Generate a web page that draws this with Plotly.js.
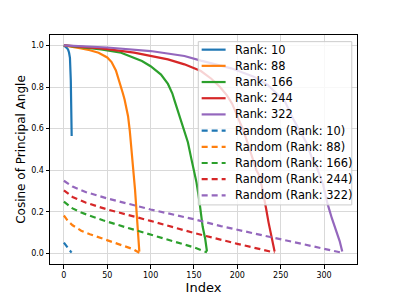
<!DOCTYPE html>
<html>
<head>
<meta charset="utf-8">
<script src="https://cdn.plot.ly/plotly-3.0.1.min.js"></script>
<style>html,body{margin:0;padding:0;background:#fff;}#chart{width:397px;height:297px;}</style>
</head>
<body>
<div id="chart"></div>
<script>
// Principal-angle cosines (solid) – index / value pairs
const rank10X = [0,1,2,3,4,5,6,7,8,9];
const rank10Y = [1.0,0.997,0.994,0.99,0.985,0.978,0.965,0.94,0.83,0.565];

const rank88X = [0,10,20,30,40,50,55,60,62,65,68,70,72,74,76,78,80,82,84,86,87];
const rank88Y = [1.0,0.994,0.986,0.977,0.965,0.942,0.92,0.88,0.855,0.81,0.77,0.74,0.70,0.66,0.59,0.50,0.43,0.31,0.19,0.07,0.01];

const rank166X = [0,20,43,66,81,90,100,112,120,125,128,135,140,143,147,150,153,156,158,160,163,165];
const rank166Y = [1.0,0.992,0.981,0.965,0.941,0.925,0.90,0.86,0.815,0.77,0.73,0.64,0.58,0.535,0.455,0.40,0.34,0.26,0.19,0.13,0.07,0.01];

const rank244X = [0,43,81,100,120,139,158,170,180,188,194,200,207,212,217,222,226,230,233,236,240,243];
const rank244Y = [1.0,0.986,0.965,0.95,0.933,0.909,0.877,0.84,0.80,0.76,0.72,0.66,0.59,0.53,0.46,0.40,0.37,0.29,0.22,0.15,0.07,0.01];

const rank322X = [0,50,100,139,158,193,219,235,245,255,264,273,280,286,292,299,304,309,313,318,321];
const rank322Y = [1.0,0.99,0.973,0.949,0.927,0.89,0.85,0.81,0.77,0.73,0.65,0.58,0.53,0.46,0.41,0.33,0.24,0.17,0.12,0.06,0.01];

// Random baselines (dashed)
const rand10X = [0,1,2,3,4,5,6,7,8,9];
const rand10Y = [0.053,0.047,0.041,0.035,0.029,0.024,0.018,0.013,0.009,0.005];

const rand88X = [0,5,10,20,30,40,50,60,70,80,87];
const rand88Y = [0.183,0.155,0.136,0.11,0.093,0.078,0.065,0.05,0.036,0.021,0.004];

const rand166X = [0,10,20,45,70,100,130,150,165];
const rand166Y = [0.25,0.217,0.197,0.16,0.128,0.092,0.055,0.03,0.006];

const rand244X = [0,10,25,50,100,150,200,243];
const rand244Y = [0.304,0.272,0.245,0.212,0.157,0.099,0.047,0.005];

const rand322X = [0,10,25,50,100,150,181,250,300,322];
const rand322Y = [0.35,0.322,0.296,0.265,0.212,0.165,0.132,0.07,0.025,0.003];

const seriesNames = ["Rank: 10","Rank: 88","Rank: 166","Rank: 244","Rank: 322"];
const randNames = ["Random (Rank: 10)","Random (Rank: 88)","Random (Rank: 166)","Random (Rank: 244)","Random (Rank: 322)"];
const colors = ["#1f77b4","#ff7f0e","#2ca02c","#d62728","#9467bd"];
const xTicks = [0,50,100,150,200,250,300];
const yTicks = [0,0.2,0.4,0.6,0.8,1.0];

const solidX = [rank10X,rank88X,rank166X,rank244X,rank322X];
const solidY = [rank10Y,rank88Y,rank166Y,rank244Y,rank322Y];
const randX = [rand10X,rand88X,rand166X,rand244X,rand322X];
const randY = [rand10Y,rand88Y,rand166Y,rand244Y,rand322Y];
const DASH = "6px,4px";

const traces = [];
for (let i = 0; i < 5; i++) {
  traces.push({x: solidX[i], y: solidY[i], type: "scatter", mode: "lines", name: seriesNames[i],
    line: {color: colors[i], width: 2.2}});
}
for (let i = 0; i < 5; i++) {
  traces.push({x: randX[i], y: randY[i], type: "scatter", mode: "lines", name: randNames[i],
    line: {color: colors[i], width: 2.2, dash: DASH}});
}

// Legend built as a matplotlib-style box (paper coordinates)
const legX0 = 0.483, legX1 = 0.983, legTop = 0.971, legBottom = 0.258;
const rowTop = 0.936, rowStep = 0.0707;
const sampleX0 = 0.494, sampleX1 = 0.572, textX = 0.597;
const shapes = [{type: "rect", xref: "paper", yref: "paper", x0: legX0, x1: legX1, y0: legBottom, y1: legTop,
  fillcolor: "rgba(255,255,255,0.8)", line: {color: "#cccccc", width: 1}, layer: "above"}];
const annotations = [];
const legendNames = seriesNames.concat(randNames);
legendNames.forEach((nm, k) => {
  const yy = rowTop - k * rowStep;
  const c = colors[k % 5];
  shapes.push({type: "line", xref: "paper", yref: "paper", x0: sampleX0, x1: sampleX1, y0: yy, y1: yy,
    line: {color: c, width: 2.2, dash: k < 5 ? "solid" : DASH}, layer: "above"});
  annotations.push({xref: "paper", yref: "paper", x: textX, y: yy, xanchor: "left", yanchor: "middle",
    text: nm, showarrow: false, font: {size: 11.4, family: "DejaVu Sans", color: "#000"}});
});

const layout = {
  width: 397, height: 297,
  margin: {l: 50, r: 40, t: 35, b: 33},
  paper_bgcolor: "#fff", plot_bgcolor: "#fff",
  font: {family: "DejaVu Sans", color: "#000"},
  showlegend: false,
  shapes: shapes,
  annotations: annotations,
  xaxis: {range: [-16, 338], tickvals: xTicks,
    showgrid: true, gridcolor: "#d9d9d9", gridwidth: 1, zeroline: false,
    showline: true, linecolor: "#000", linewidth: 1, mirror: true,
    ticks: "outside", ticklen: 3.5, tickcolor: "#000", tickfont: {size: 8},
    title: {text: "Index", font: {size: 13}, standoff: 0}},
  yaxis: {range: [-0.05, 1.05], tickvals: yTicks, tickformat: ".1f",
    showgrid: true, gridcolor: "#d9d9d9", gridwidth: 1, zeroline: false,
    showline: true, linecolor: "#000", linewidth: 1, mirror: true,
    ticks: "outside", ticklen: 3.5, tickcolor: "#000", tickfont: {size: 8},
    title: {text: "Cosine of Principal Angle", font: {size: 12}, standoff: 2}}
};

Plotly.newPlot("chart", traces, layout, {displayModeBar: false, staticPlot: true});
</script>
</body>
</html>
